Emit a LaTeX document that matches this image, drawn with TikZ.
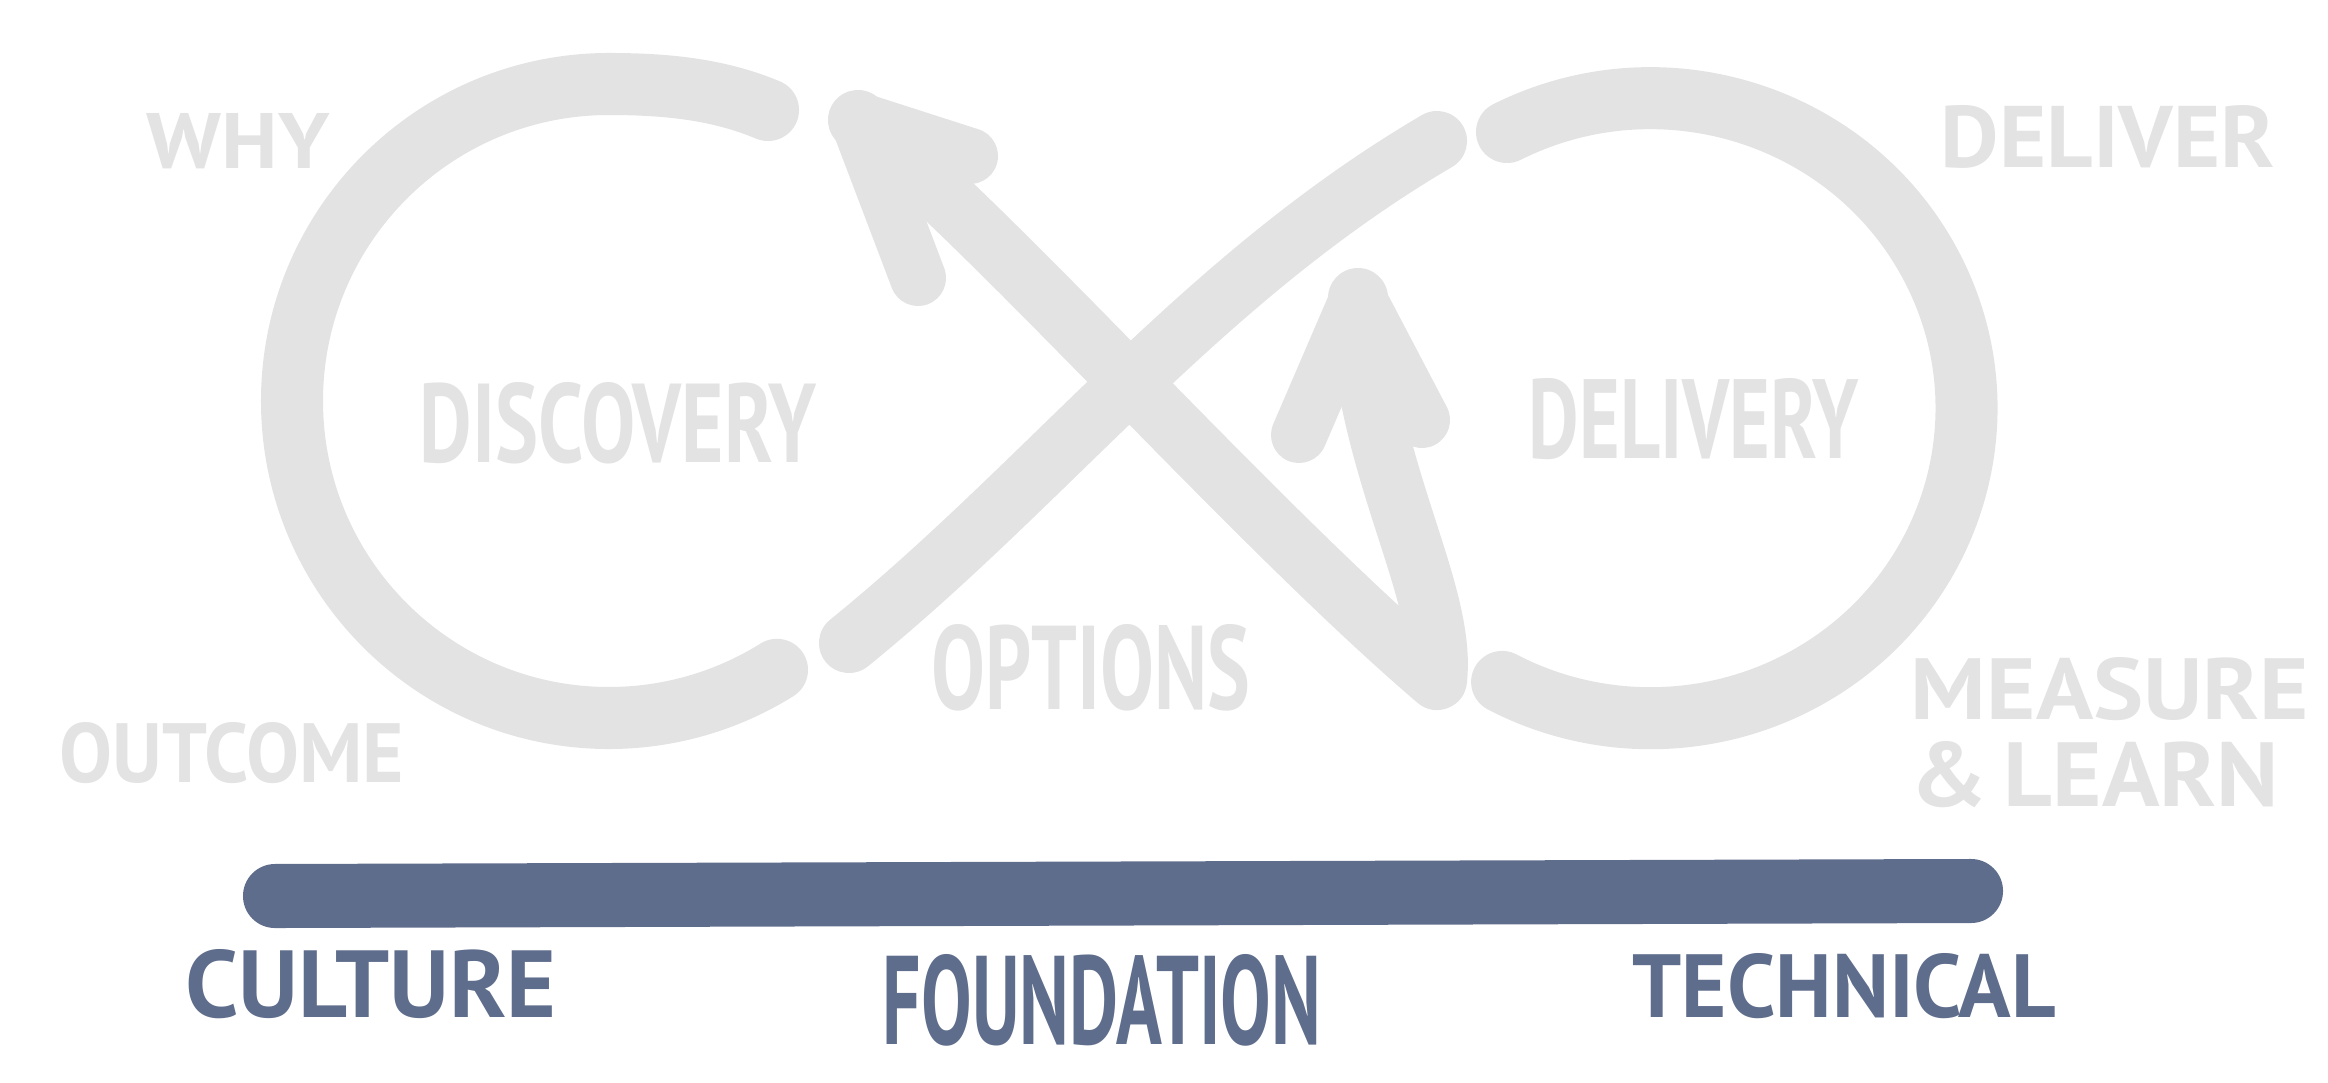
\documentclass[tikz,border=0pt]{standalone}
\usepackage{graphicx}
\usepackage{fontspec}
\setmainfont{PT Sans}
\usetikzlibrary{calc}
\definecolor{loopgrey}{HTML}{E3E3E3}
\definecolor{baseslate}{HTML}{5F6D8C}
% sketch label squeezed to a given width and cap height
\newcommand{\sketchword}[3]{\resizebox{#1}{#2}{\bfseries #3}}

\begin{document}
\begin{tikzpicture}[x=0.01cm,y=-0.01cm,
    loopline/.style={draw=loopgrey,line width=0.6cm,line cap=round,line join=round},
    headline/.style={loopline,line width=0.56cm},
    outerword/.style={text=loopgrey,inner sep=0pt},
    baseword/.style={text=baseslate,inner sep=0pt}]
  \useasboundingbox (0,0) rectangle (2328,1082);

  % the two open loops
  \draw[loopline,line width=0.62cm] (768,110) .. controls (720,90) and (670,84) .. (609,84)
    arc[start angle=-90,end angle=-302,radius=317];
  \draw[loopline,line width=0.62cm] (1507,132) arc[start angle=-117,end angle=118,x radius=316,y radius=310];

  % crossing strands
  \coordinate (lowleft) at (849,643);
  \coordinate (upright) at (1437,141);
  \coordinate (lefttip) at (858,120);
  \coordinate (corner) at (1437,680);
  \coordinate (righttip) at (1358,298);
  \draw[loopline] (lowleft) .. controls (1050,480) and (1200,280) .. (upright);
  \draw[loopline] (lefttip) .. controls (1000,235) and (1250,520) .. (corner)
    .. controls (1447,590) and (1365,470) .. (righttip);

  % arrow heads
  \draw[headline] (970,156) -- (lefttip) -- (918,278);
  \draw[headline] (1299,435) -- (righttip) -- (1422,420);

  % labels round the loop
  \node[outerword] (why) at (238,141) {\sketchword{1.83cm}{0.55cm}{WHY}};
  \node[outerword] (outcome) at (232,753) {\sketchword{3.44cm}{0.6cm}{OUTCOME}};
  \node[outerword] (deliver) at (2108,137) {\sketchword{3.34cm}{0.62cm}{DELIVER}};
  \node[outerword] (measure) at (2110,689) {\sketchword{3.98cm}{0.62cm}{MEASURE}};
  \node[outerword] (learn) at (2095,775) {\sketchword{3.68cm}{0.65cm}{\&\,LEARN}};
  \node[outerword] (discovery) at (618,423) {\sketchword{3.96cm}{0.8cm}{DISCOVERY}};
  \node[outerword] (delivery) at (1694,419) {\sketchword{3.3cm}{0.8cm}{DELIVERY}};
  \node[outerword] (options) at (1091,668) {\sketchword{3.18cm}{0.85cm}{OPTIONS}};

  % foundation bar
  \draw[baseslate,line width=0.64cm,line cap=round] (275,896) -- (1971,891);
  \node[baseword] (culture) at (371,984) {\sketchword{3.71cm}{0.68cm}{CULTURE}};
  \node[baseword] (foundation) at (1102,1000) {\sketchword{4.38cm}{0.9cm}{FOUNDATION}};
  \node[baseword] (technical) at (1844,986) {\sketchword{4.23cm}{0.64cm}{TECHNICAL}};
\end{tikzpicture}
\end{document}
